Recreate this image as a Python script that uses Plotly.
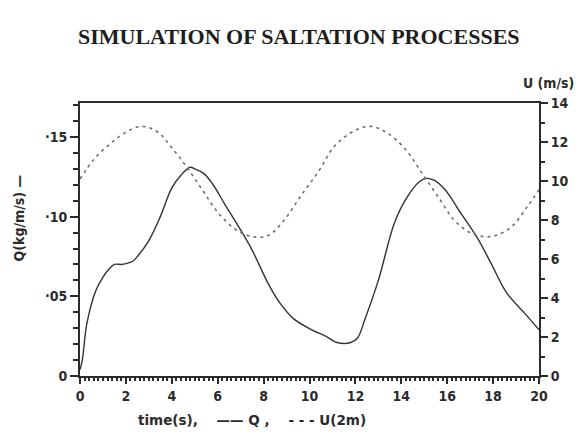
import plotly.graph_objects as go

# Sediment flux Q (kg/m/s)
time_q = [0, 0.1, 0.3, 0.7, 1.0, 1.2, 1.5, 1.8, 2.0, 2.3, 2.5, 3.0, 3.5, 4.0,
          4.4, 4.8, 5.0, 5.4, 5.8, 6.3, 6.9, 7.5, 8.2, 8.7, 9.3, 10.1, 10.7,
          11.2, 11.8, 12.1, 12.4, 13.0, 13.7, 14.2, 14.8, 15.1, 15.4, 15.9,
          16.6, 17.3, 17.9, 18.6, 19.4, 20.0]
flux_q = [0.004, 0.010, 0.033, 0.054, 0.062, 0.066, 0.070, 0.070, 0.0705,
          0.072, 0.075, 0.085, 0.100, 0.118, 0.126, 0.131, 0.130, 0.127,
          0.120, 0.108, 0.094, 0.079, 0.058, 0.046, 0.036, 0.029, 0.025,
          0.021, 0.021, 0.024, 0.035, 0.060, 0.096, 0.111, 0.122, 0.124,
          0.123, 0.117, 0.102, 0.087, 0.071, 0.052, 0.039, 0.029]

# Wind speed at 2 m, U (m/s), dotted curve
time_u = [0, 0.6, 1.3, 2.0, 2.7, 3.4, 4.0, 4.6, 5.3, 6.0, 6.8, 7.5, 8.2, 8.9,
          9.6, 10.4, 11.1, 12.0, 12.7, 13.4, 14.2, 14.9, 15.6, 16.3, 17.0,
          17.6, 18.1, 18.8, 19.5, 20.0]
speed_u = [10.1, 11.1, 11.9, 12.5, 12.8, 12.5, 11.7, 10.8, 9.6, 8.4, 7.5,
           7.15, 7.2, 8.0, 9.2, 10.5, 11.8, 12.6, 12.8, 12.45, 11.6, 10.4,
           9.2, 8.0, 7.35, 7.15, 7.2, 7.65, 8.7, 9.55]

x_ticks = [0, 2, 4, 6, 8, 10, 12, 14, 16, 18, 20]
q_ticks = [0, 0.05, 0.10, 0.15]
q_labels = ["0", "·05", "·10", "·15"]
u_ticks = [0, 2, 4, 6, 8, 10, 12, 14]

ink = "#2b2b2b"
sans = "DejaVu Sans Condensed, Liberation Sans Narrow, Arial"
tick_font = dict(family=sans, size=14, color=ink, weight="bold")

fig = go.Figure()

fig.add_trace(
    go.Scatter(
        x=time_u,
        y=speed_u,
        mode="lines",
        line=dict(color="#6e6e6e", width=1.6, dash="3px,4px", shape="spline"),
        yaxis="y2",
        showlegend=False,
    )
)

fig.add_trace(
    go.Scatter(
        x=time_q,
        y=flux_q,
        mode="lines",
        line=dict(color="#333333", width=1.4, shape="spline"),
        showlegend=False,
    )
)

fig.update_layout(
    width=581,
    height=437,
    margin=dict(l=80, r=40, t=103, b=61),
    paper_bgcolor="white",
    plot_bgcolor="white",
    xaxis=dict(
        range=[0, 20],
        tickvals=x_ticks,
        ticks="outside",
        ticklen=6,
        tickwidth=1.5,
        tickcolor=ink,
        minor=dict(dtick=0.2, ticks="outside", ticklen=3, tickcolor=ink),
        showline=True,
        linecolor=ink,
        linewidth=2,
        mirror=True,
        showgrid=False,
        zeroline=False,
        tickfont=tick_font,
    ),
    yaxis=dict(
        range=[0, 0.1713],
        tickvals=q_ticks,
        ticktext=q_labels,
        ticks="outside",
        ticklen=8,
        tickwidth=1.5,
        tickcolor=ink,
        minor=dict(dtick=0.01, ticks="outside", ticklen=5, tickcolor=ink),
        showline=True,
        linecolor=ink,
        linewidth=2,
        showgrid=False,
        zeroline=False,
        tickfont=tick_font,
    ),
    yaxis2=dict(
        range=[0, 14],
        overlaying="y",
        side="right",
        tickvals=u_ticks,
        ticks="outside",
        ticklen=7,
        tickwidth=1.5,
        tickcolor=ink,
        minor=dict(dtick=1, ticks="outside", ticklen=4, tickcolor=ink),
        showline=True,
        linecolor=ink,
        linewidth=2,
        showgrid=False,
        zeroline=False,
        tickfont=tick_font,
    ),
)

label_font = dict(family=sans, size=14, color=ink, weight="bold")

fig.add_annotation(
    text="SIMULATION OF SALTATION PROCESSES",
    xref="paper", yref="paper", x=0.477, y=1.245,
    xanchor="center", yanchor="middle",
    showarrow=False,
    font=dict(family="Liberation Serif, Times New Roman, serif", size=22,
              color="#1e1e1e", weight="bold"),
)
fig.add_annotation(
    text="Q(kg/m/s) —",
    xref="paper", yref="paper", x=-0.134, y=0.579,
    xanchor="center", yanchor="middle",
    textangle=-90, showarrow=False, font=label_font,
)
fig.add_annotation(
    text="U (m/s)",
    xref="paper", yref="paper", x=1.02, y=1.073,
    xanchor="center", yanchor="middle",
    showarrow=False, font=label_font,
)
fig.add_annotation(
    text="time(s),    —— Q ,    - - - U(2m)",
    xref="paper", yref="paper", x=0.375, y=-0.161,
    xanchor="center", yanchor="middle",
    showarrow=False,
    font=dict(family="DejaVu Sans, Arial", size=13.5, color=ink, weight="bold"),
)

fig.write_html("out.html", config={"displayModeBar": False},
               post_script="document.body.style.margin='0';")
